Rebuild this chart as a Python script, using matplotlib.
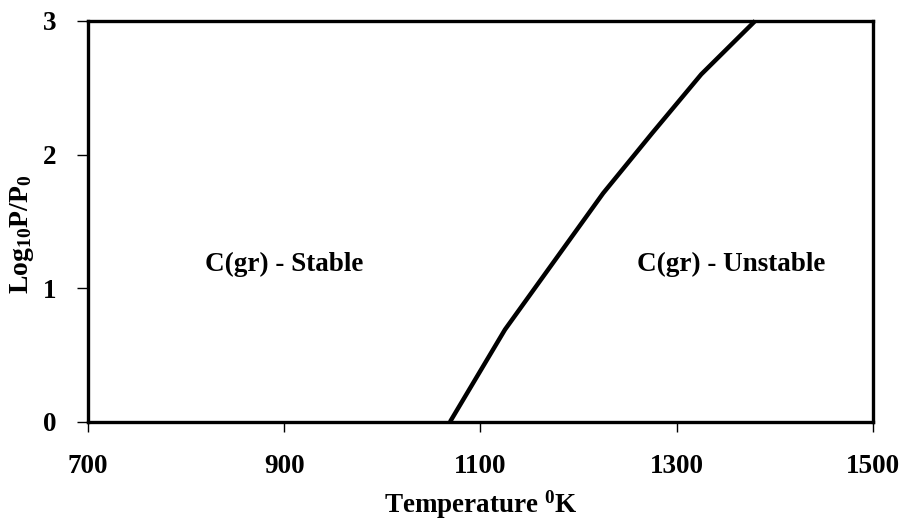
import matplotlib
matplotlib.use("Agg")
import matplotlib.pyplot as plt

# phase boundary of graphite
temp_k = [1069, 1125, 1175, 1225, 1275, 1325, 1380]
log_p = [0.0, 0.69, 1.20, 1.71, 2.16, 2.60, 3.0]
x_ticks = [700, 900, 1100, 1300, 1500]
y_ticks = [0, 1, 2, 3]

plt.rcParams['font.family'] = 'Liberation Serif'
plt.rcParams['font.weight'] = 'bold'
plt.rcParams['mathtext.fontset'] = 'custom'
plt.rcParams['mathtext.rm'] = 'Liberation Serif:bold'
plt.rcParams['mathtext.bf'] = 'Liberation Serif:bold'
plt.rcParams['mathtext.it'] = 'Liberation Serif:bold'

fig = plt.figure(figsize=(9.05, 5.22), dpi=100)
ax = fig.add_axes([0.0972, 0.192, 0.8674, 0.768])

ax.plot(temp_k, log_p, color='black', lw=3.2, solid_capstyle='butt', clip_on=False)
ax.set_xlim(700, 1500)
ax.set_ylim(0, 3)
ax.set_xticks(x_ticks)
ax.set_yticks(y_ticks)
for s in ax.spines.values():
    s.set_linewidth(2.4)
ax.tick_params(axis='x', direction='out', length=7, width=1, pad=16, labelsize=19.5)
ax.tick_params(axis='y', direction='out', length=8, width=1, pad=15, labelsize=19.5)

ax.text(900, 1.18, 'C(gr) - Stable', ha='center', va='center', fontsize=19.5, fontweight='bold')
ax.text(1356, 1.18, 'C(gr) - Unstable', ha='center', va='center', fontsize=19.5, fontweight='bold')

fig.text(0.531, 0.018, r'Temperature $^{0}$K', ha='center', va='baseline', fontsize=19.5, fontweight='bold')
fig.text(0.024, 0.552, r'Log$_{10}$P/P$_{0}$', ha='center', va='center', rotation=90,
         fontsize=20, fontweight='bold')

fig.savefig('out.png', dpi=100)
